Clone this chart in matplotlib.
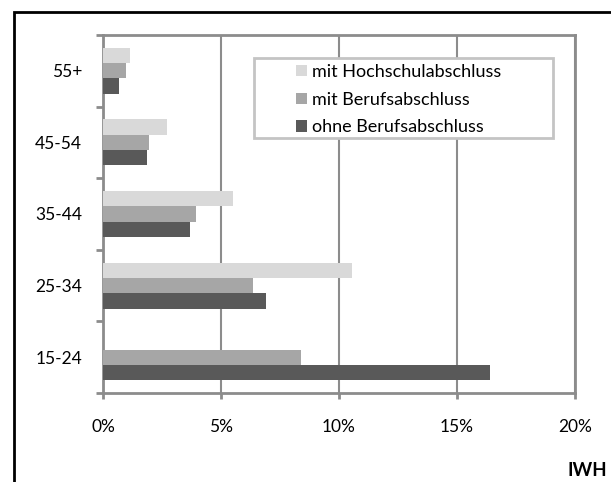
import numpy as np
import matplotlib
matplotlib.use("Agg")
import matplotlib.pyplot as plt
from matplotlib.patches import Rectangle
from matplotlib.ticker import FuncFormatter

plt.rcParams['font.family'] = ['Lato', 'DejaVu Sans']

# Anteile nach Altersgruppe (in %), von unten nach oben
groups = ['15-24', '25-34', '35-44', '45-54', '55+']
hochschule = [0.0, 10.55, 5.5, 2.7, 1.15]
beruf = [8.38, 6.34, 3.96, 1.96, 0.98]
ohne = [16.38, 6.9, 3.7, 1.87, 0.67]
labels = ['mit Hochschulabschluss', 'mit Berufsabschluss', 'ohne Berufsabschluss']
colors = ['#d9d9d9', '#a6a6a6', '#595959']

W, H = 611, 482
x0, x1, y0, y1 = 103, 575, 35, 393   # Plotbereich in Pixeln
fig = plt.figure(figsize=(W/100, H/100), dpi=100)
ax = fig.add_axes([x0/W, 1-y1/H, (x1-x0)/W, (y1-y0)/H])

def ax_xy(px, py):
    return (px - x0)/(x1 - x0), (y1 - py)/(y1 - y0)

y = np.arange(len(groups))
h = 0.215
ax.barh(y + h, hochschule, h, color=colors[0], label=labels[0], zorder=3)
ax.barh(y, beruf, h, color=colors[1], label=labels[1], zorder=3)
ax.barh(y - h, ohne, h, color=colors[2], label=labels[2], zorder=3)

axis_col = '#8c8c8c'
ax.set_xlim(0, 20)
ax.set_ylim(-0.5, len(groups) - 0.5)
ax.set_xticks([0, 5, 10, 15, 20])
ax.xaxis.set_major_formatter(FuncFormatter(lambda v, p: '%d%%' % v))
ax.set_yticks(y)
ax.set_yticklabels(groups)
ax.set_yticks(np.arange(len(groups) + 1) - 0.5, minor=True)
ax.tick_params(axis='y', which='major', length=0, pad=15, labelsize=12.5)
ax.tick_params(axis='y', which='minor', length=5, width=2, color=axis_col)
ax.tick_params(axis='x', length=4, width=2, color=axis_col, pad=15, labelsize=12.5)
ax.grid(axis='x', color=axis_col, linewidth=1.5, zorder=1)
for s in ax.spines.values():
    s.set_color(axis_col)
    s.set_linewidth(2)

# Legendenkasten breiter als der Inhalt
bx, by = ax_xy(254, 138)
ax.add_patch(Rectangle((bx, by), 299/(x1-x0), 80/(y1-y0), transform=ax.transAxes,
                       facecolor='white', edgecolor='#c4c4c4', linewidth=2, zorder=4))
leg = ax.legend(loc='upper left', bbox_to_anchor=ax_xy(296, 64), fontsize=13,
                frameon=False, handlelength=0.6, handleheight=0.6,
                handletextpad=0.3, labelspacing=0.65, borderpad=0, borderaxespad=0)
leg.set_zorder(5)

# Rahmen um die Abbildung
fig.patches.append(Rectangle((14/W, -0.1), 1.2, 1.1 - 12/H, transform=fig.transFigure,
                             fill=False, edgecolor='black', linewidth=2))
fig.text(587/W, 1-470/H, 'IWH', fontsize=13.5, fontweight='bold', ha='center', va='center')

fig.savefig('out.png', dpi=100)
